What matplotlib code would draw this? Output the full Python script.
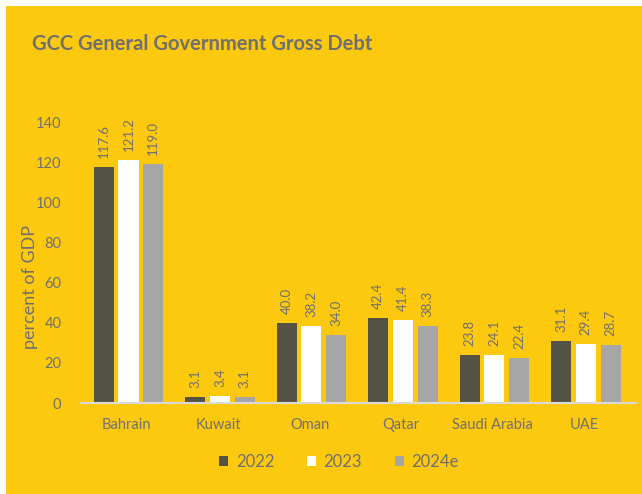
import numpy as np
import matplotlib.pyplot as plt
from matplotlib.patches import Rectangle

countries = ["Bahrain", "Kuwait", "Oman", "Qatar", "Saudi Arabia", "UAE"]
years = ["2022", "2023", "2024e"]
debt_2022 = [117.6, 3.1, 40.0, 42.4, 23.8, 31.1]
debt_2023 = [121.2, 3.4, 38.2, 41.4, 24.1, 29.4]
debt_2024e = [119.0, 3.1, 34.0, 38.3, 22.4, 28.7]

YELLOW = "#fdc90f"
TEXT = "#6f6f6f"
colors = ["#535244", "#ffffff", "#a6a6a6"]

plt.rcParams["font.family"] = ["Lato", "DejaVu Sans"]

fig = plt.figure(figsize=(6.42, 4.94), dpi=100, facecolor="white")
# yellow panel behind everything, leaving a thin white margin top and left
fig.patches.append(Rectangle((6 / 642, 0), 1, 1 - 6 / 494, transform=fig.transFigure,
                             facecolor=YELLOW, edgecolor="none", zorder=-1))

ax = fig.add_axes([0.126, 0.184, 0.855, 0.569])
ax.set_facecolor("none")

x = np.arange(len(countries))
width = 0.22
step = 0.27
for i, (vals, label, c) in enumerate(zip([debt_2022, debt_2023, debt_2024e], years, colors)):
    bars = ax.bar(x + 0.02 + (i - 1) * step, vals, width, color=c, label=label, zorder=2)
    for b, v in zip(bars, vals):
        ax.text(b.get_x() + b.get_width() / 2, v + 4.5, f"{v:.1f}", rotation=90,
                ha="center", va="bottom", fontsize=9.5, color=TEXT)

ax.set_xlim(-0.5, 5.5)
ax.set_ylim(0, 140)
ax.set_yticks(range(0, 141, 20))
ax.set_xticks(x)
ax.set_xticklabels(countries)
ax.tick_params(axis="both", length=0, labelsize=10.5, colors=TEXT)
ax.tick_params(axis="x", pad=11)
ax.tick_params(axis="y", pad=14)
for s in ["top", "right", "left"]:
    ax.spines[s].set_visible(False)
ax.spines["bottom"].set_color("#d9d9d9")
ax.spines["bottom"].set_linewidth(1.5)
ax.spines["bottom"].set_bounds(-0.5, 5.57)

fig.text(32 / 642, 1 - 44 / 494, "GCC General Government Gross Debt",
         fontsize=14.5, fontweight="bold", color=TEXT, va="center", ha="left")
fig.text(30 / 642, 1 - 287 / 494, "percent of GDP", rotation=90, fontsize=13,
         color=TEXT, va="center", ha="center")

leg = fig.legend(loc="center", bbox_to_anchor=(339 / 642, 1 - 462 / 494), ncol=3,
                 frameon=False, fontsize=12, handlelength=0.55, handleheight=0.55,
                 columnspacing=1.95, handletextpad=0.45)
for t in leg.get_texts():
    t.set_color(TEXT)

fig.savefig("out.png", dpi=100, facecolor=fig.get_facecolor())
